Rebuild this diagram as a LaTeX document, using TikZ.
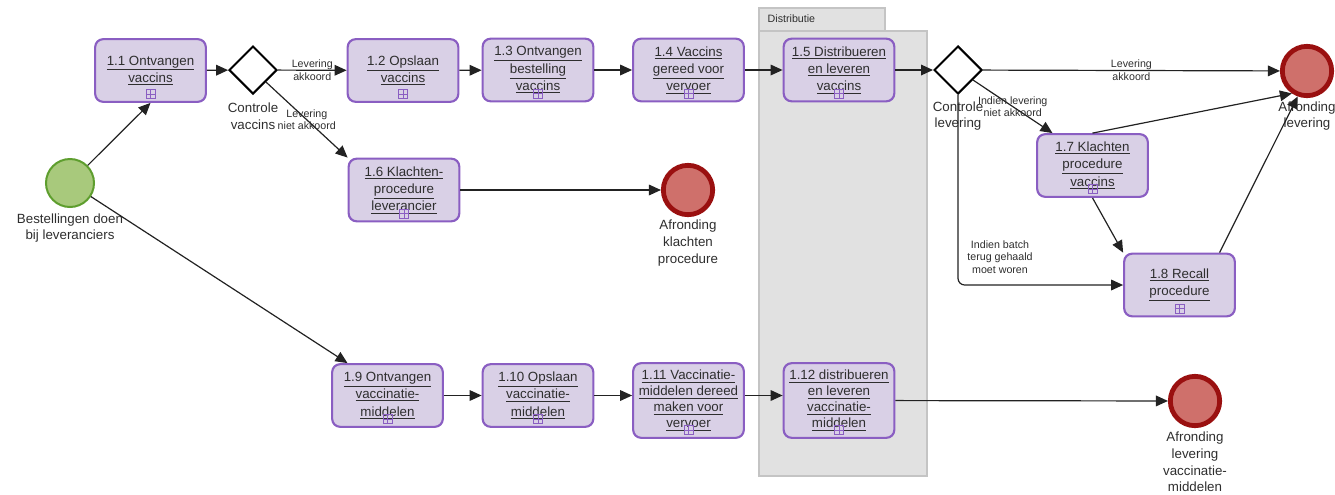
\documentclass[tikz,border=0pt]{standalone}
\usepackage{fontspec}
\setmainfont{Liberation Sans}
\usetikzlibrary{shapes.geometric,arrows.meta}
\definecolor{taskfill}{HTML}{D9D0E6}
\definecolor{taskdraw}{HTML}{8A5EC2}
\definecolor{startfill}{HTML}{A8C97C}
\definecolor{startdraw}{HTML}{5E9E2E}
\definecolor{endfill}{HTML}{CF706B}
\definecolor{enddraw}{HTML}{9A1010}
\definecolor{lanefill}{HTML}{E1E1E1}
\definecolor{lanedraw}{HTML}{C4C4C4}
\definecolor{linec}{HTML}{222222}
\definecolor{textc}{HTML}{2E2E2E}
\newcommand\uln[1]{\underline{#1}}
\begin{document}
\begin{tikzpicture}[x=0.75pt,y=-0.75pt,
  task/.style={rectangle, rounded corners=6pt, fill=taskfill, draw=taskdraw, line width=1.6pt,
    minimum width=83pt, minimum height=47pt, align=center, inner sep=0pt,
    font=\fontsize{10}{13}\selectfont, text=textc},
  tall/.style={minimum height=56pt, font=\fontsize{10}{12}\selectfont},
  gate/.style={diamond, aspect=1, draw=black, fill=white, line width=1.5pt,
    minimum width=36pt, minimum height=36pt, inner sep=0pt},
  startev/.style={circle, fill=startfill, draw=startdraw, line width=1.5pt, minimum size=36pt, inner sep=0pt},
  endev/.style={circle, fill=endfill, draw=enddraw, line width=3.6pt, minimum size=37pt, inner sep=0pt},
  flow/.style={draw=linec, line width=0.9pt, -{Triangle[length=9pt,width=8pt]}},
  elabel/.style={font=\fontsize{8}{9.5}\selectfont, text=textc, align=center, inner sep=0pt},
  evlabel/.style={font=\fontsize{10}{12.5}\selectfont, text=textc, align=center, inner sep=0pt},
  subproc/.pic={\draw[taskdraw, line width=0.6pt] (-3.4pt,-3.4pt) rectangle (3.4pt,3.4pt)
     (-3.4pt,0pt) -- (3.4pt,0pt) (0pt,-3.4pt) -- (0pt,3.4pt);}
]
\useasboundingbox (0,0) rectangle (1335,494);
% lane
\draw[lanedraw, fill=lanefill, line width=0.8pt] (759,8) rectangle (885,31);
\draw[lanedraw, fill=lanefill, line width=0.8pt] (759,31) rectangle (927,476);
\node[anchor=west, font=\fontsize{8}{9}\selectfont, text=textc] (lanelabel) at (763,19) {Distributie};

% events
\node[startev] (start) at (70,183) {};
\node[evlabel] (startl) at (70,228) {Bestellingen doen\\bij leveranciers};
\node[endev] (e1) at (1307,71) {};
\node[evlabel] (e1l) at (1307,116) {Afronding\\levering};
\node[endev] (e2) at (688,190) {};
\node[evlabel] (e2l) at (688,243) {Afronding\\klachten\\procedure};
\node[endev] (e3) at (1195,401) {};
\node[evlabel] (e3l) at (1195,462) {Afronding\\levering\\vaccinatie-\\middelen};

% gateways
\node[gate] (gw1) at (253,70) {};
\node[evlabel] (gw1l) at (253,116) {Controle\\vaccins};
\node[gate] (gw2) at (958,70) {};
\node[evlabel] (gw2l) at (958,116) {Controle\\levering};

% tasks
\node[task] (t11) at (150.5,70.5) {\uln{1.1 Ontvangen}\\\uln{vaccins}};
\node[task] (t12) at (403,70.5) {\uln{1.2 Opslaan}\\\uln{vaccins}};
\node[task] (t13) at (538,70) {\uln{1.3 Ontvangen}\\\uln{bestelling}\\\uln{vaccins}};
\node[task] (t14) at (688.5,70) {\uln{1.4 Vaccins}\\\uln{gereed voor}\\\uln{vervoer}};
\node[task] (t15) at (839,70) {\uln{1.5 Distribueren}\\\uln{en leveren}\\\uln{vaccins}};
\node[task] (t16) at (404,190) {\uln{1.6 Klachten-}\\\uln{procedure}\\\uln{leverancier}};
\node[task] (t17) at (1092.5,165.5) {\uln{1.7 Klachten}\\\uln{procedure}\\\uln{vaccins}};
\node[task] (t18) at (1179.5,285) {\uln{1.8 Recall}\\\uln{procedure}};
\node[task] (t19) at (387.5,395.5) {\uln{1.9 Ontvangen}\\\uln{vaccinatie-}\\\uln{middelen}};
\node[task] (t110) at (538,395.5) {\uln{1.10 Opslaan}\\\uln{vaccinatie-}\\\uln{middelen}};
\node[task,tall] (t111) at (688.5,400.5) {\uln{1.11 Vaccinatie-}\\\uln{middelen dereed}\\\uln{maken voor}\\\uln{vervoer}};
\node[task,tall] (t112) at (839,400.5) {\uln{1.12 distribueren}\\\uln{en leveren}\\\uln{vaccinatie-}\\\uln{middelen}};

\foreach \n in {t11,t12,t13,t14,t15,t16,t17,t18,t19,t110,t111,t112}
  \pic at ([yshift=6.5pt]\n.south) {subproc};

% flows
\draw[flow] (start) -- (t11.south);
\draw[flow] (start) -- (t19.141);
\draw[flow] (t11) -- (gw1);
\draw[flow] (gw1) -- node[elabel] (lb1) {Levering\\akkoord} (t12);
\draw[flow] (gw1) -- node[elabel] (lb2) {Levering\\niet akkoord} (t16.north west);
\draw[flow] (t12) -- (t13);
\draw[flow] (t13) -- (t14);
\draw[flow] (t14) -- (t15);
\draw[flow] (t15) -- (gw2);
\draw[flow] (gw2) -- node[elabel] (lb3) {Levering\\akkoord} (e1);
\draw[flow] (gw2) -- node[elabel] (lb4) {Indien levering\\niet akkoord} (t17.141);
\draw[flow, rounded corners=5pt] (gw2.south) |- (t18.west);
\node[elabel] (lb5) at (1000,257) {Indien batch\\terug gehaald\\moet woren};
\draw[flow] (t17.north) -- (e1.236);
\draw[flow] (t17.south) -- (t18.north west);
\draw[flow] (t18.39) -- (e1.250);
\draw[flow] (t16) -- (e2);
\draw[flow] (t19.east) -- (t19.east -| t110.west);
\draw[flow] (t110.east) -- (t110.east -| t111.west);
\draw[flow] ([yshift=3.75pt]t111.east) -- ([yshift=3.75pt]t111.east -| t112.west);
\draw[flow] (t112) -- (e3);
\end{tikzpicture}
\end{document}
